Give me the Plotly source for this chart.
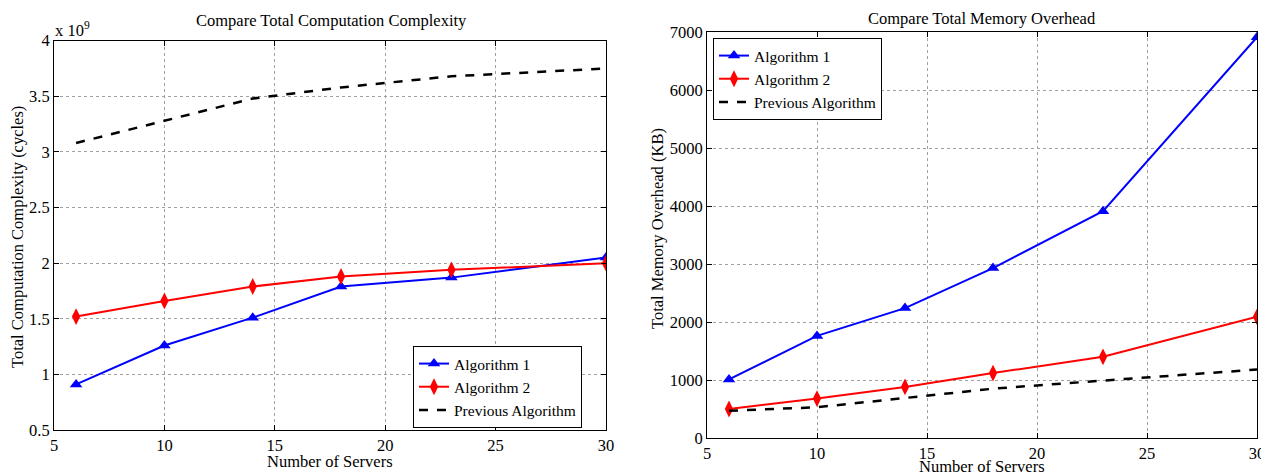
import plotly.graph_objects as go

servers = [6, 10, 14, 18, 23, 30]

comp_alg1 = [0.91, 1.26, 1.51, 1.79, 1.87, 2.05]
comp_alg2 = [1.52, 1.66, 1.79, 1.88, 1.94, 2.00]
comp_prev = [3.08, 3.28, 3.48, 3.58, 3.68, 3.75]

mem_alg1 = [1010, 1760, 2240, 2930, 3910, 6910]
mem_alg2 = [500, 680, 880, 1120, 1400, 2090]
mem_prev = [470, 530, 690, 850, 990, 1180]

x_ticks = [5, 10, 15, 20, 25, 30]
comp_ticks = [0.5, 1, 1.5, 2, 2.5, 3, 3.5, 4]
comp_ticktext = ["0.5", "1", "1.5", "2", "2.5", "3", "3.5", "4"]
mem_ticks = [0, 1000, 2000, 3000, 4000, 5000, 6000, 7000]

names = ["Algorithm 1", "Algorithm 2", "Previous Algorithm"]

FONT = "Liberation Serif"
FS = 16.5
OFF = 8  # page body margin
W, H = 1269 - OFF, 475 - OFF

def px(x):
    return (x - OFF) / W

def py(y):
    return 1 - (y - OFF) / H

fig = go.Figure()

def add_series(xa, ya, ys, legend):
    fig.add_trace(go.Scatter(x=servers, y=ys[0], name=names[0], xaxis=xa, yaxis=ya,
                             mode="lines+markers", line=dict(color="#0000ff", width=2),
                             marker=dict(symbol="triangle-up", size=11, color="#0000ff"),
                             legend=legend))
    fig.add_trace(go.Scatter(x=servers, y=ys[1], name=names[1], xaxis=xa, yaxis=ya,
                             mode="lines+markers", line=dict(color="#ff0000", width=2),
                             marker=dict(symbol="diamond-tall", size=12, color="#ff0000"),
                             legend=legend))
    fig.add_trace(go.Scatter(x=servers, y=ys[2], name=names[2], xaxis=xa, yaxis=ya,
                             mode="lines", line=dict(color="black", width=2.5, dash="dash"),
                             legend=legend))

add_series("x", "y", [comp_alg1, comp_alg2, comp_prev], "legend")
add_series("x2", "y2", [mem_alg1, mem_alg2, mem_prev], "legend2")

axis_common = dict(showline=True, linecolor="black", linewidth=1, mirror="ticks",
                   ticks="inside", ticklen=5, tickcolor="black", automargin=False,
                   showgrid=True, gridcolor="#a0a0a0", griddash="dot", gridwidth=1,
                   zeroline=False, tickfont=dict(family=FONT, size=FS, color="black"))

legend_common = dict(xanchor="left", yanchor="top", bordercolor="black", borderwidth=1,
                     bgcolor="white", font=dict(family=FONT, size=15.5, color="black"),
                     tracegroupgap=0, itemwidth=30)

def ann(text, x, y, angle=0, xanchor="center", size=FS):
    return dict(text=text, x=px(x), y=py(y), xref="paper", yref="paper", showarrow=False,
                xanchor=xanchor, yanchor="middle", textangle=angle,
                font=dict(family=FONT, size=size, color="black"))

fig.update_layout(
    width=W, height=H,
    margin=dict(l=0, r=0, t=0, b=0),
    paper_bgcolor="white", plot_bgcolor="white",
    font=dict(family=FONT, color="black"),
    showlegend=True,
    xaxis=dict(domain=[px(54), px(606)], range=[5, 30], tickvals=x_ticks, anchor="y", **axis_common),
    yaxis=dict(domain=[py(430), py(40.7)], range=[0.5, 4], tickvals=comp_ticks, ticktext=comp_ticktext,
               anchor="x", **axis_common),
    xaxis2=dict(domain=[px(707), px(1257)], range=[5, 30], tickvals=x_ticks, anchor="y2", **axis_common),
    yaxis2=dict(domain=[py(438), py(32)], range=[0, 7000], tickvals=mem_ticks, anchor="x2", **axis_common),
    legend=dict(x=px(413), y=py(346), **legend_common),
    legend2=dict(x=px(713), y=py(38), **legend_common),
    annotations=[
        ann("Compare Total Computation Complexity", 331, 21),
        ann("Compare Total Memory Overhead", 982, 18),
        ann("x 10<sup>9</sup>", 53, 29, xanchor="left"),
        ann("Number of Servers", 330, 461),
        ann("Number of Servers", 982, 466),
        ann("Total Computation Complexity (cycles)", 18, 237, angle=-90),
        ann("Total Memory Overhead (KB)", 657, 228, angle=-90),
    ],
)

fig.write_html("out.html")
